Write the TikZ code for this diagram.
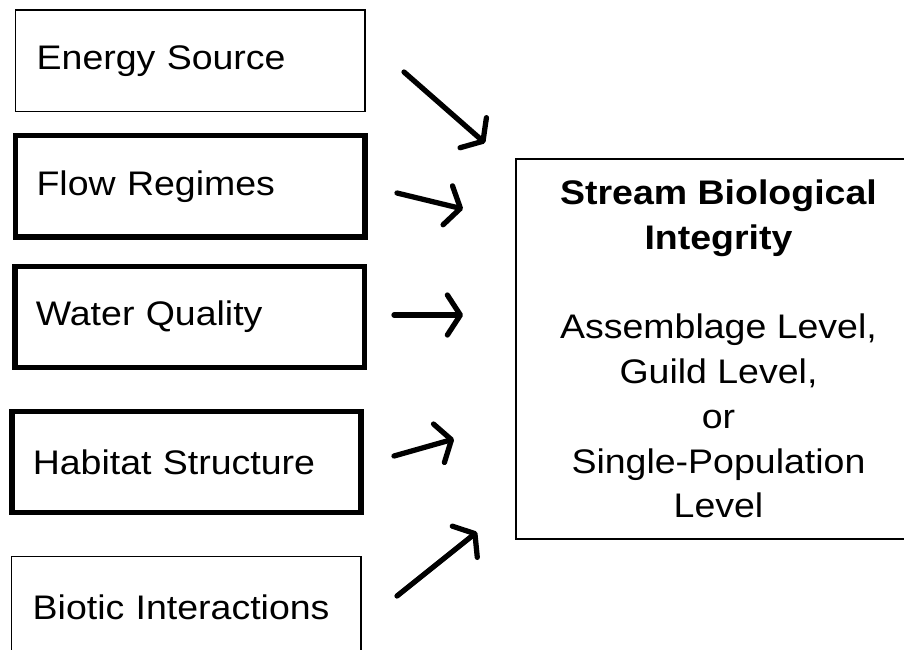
\documentclass[tikz,border=0pt]{standalone}
\usepackage{fontspec}
\setmainfont{Liberation Sans}[FakeStretch=1.1]
\usetikzlibrary{arrows.meta}

\begin{document}
\begin{tikzpicture}[
    x=0.02cm, y=-0.02cm,
    factor/.style={draw, minimum width=6.99cm, minimum height=2.03cm,
                   text width=6.15cm, inner xsep=0.42cm, align=left,
                   font=\fontsize{19.4}{23}\selectfont},
    integrity/.style={draw, line width=0.85pt, minimum width=8.1cm,
                      minimum height=7.6cm, align=center,
                      font=\fontsize{19.4}{25.5}\selectfont},
    arrow/.style={-{Straight Barb[length=0.26cm, width=0.8cm, round]},
                  line width=3pt, line cap=round}
]
\useasboundingbox (0,0) rectangle (904,650);
\clip (0,0) rectangle (904,650);

\node[factor, line width=0.85pt] (energy) at (190.4,60.9) {Energy Source};
\node[factor, line width=3.1pt] (flow) at (190.3,186.3) {Flow Regimes};
\node[factor, line width=3.1pt] (water) at (189.6,317) {Water Quality};
\node[factor, line width=3.1pt] (habitat) at (186.5,462) {Habitat Structure};
\node[factor, line width=0.85pt] (biotic) at (186.4,607) {Biotic Interactions};

\node[integrity] (sbi) at (718.5,349)
    {\textbf{Stream Biological}\\\textbf{Integrity}\\[25.5pt]
     Assemblage Level,\\Guild Level,\\or\\Single-Population\\Level};

% free-standing arrows between the two columns
\coordinate (energy-from) at (404,72);
\coordinate (energy-to) at (485,143);
\coordinate (flow-from) at (397,193);
\coordinate (flow-to) at (463,209);
\coordinate (water-from) at (394,315);
\coordinate (water-to) at (463,315);
\coordinate (habitat-from) at (394,456);
\coordinate (habitat-to) at (454,439);
\coordinate (biotic-from) at (397,596);
\coordinate (biotic-to) at (477,532);

\draw[arrow] (energy-from) -- (energy-to);
\draw[arrow] (flow-from) -- (flow-to);
\draw[arrow] (water-from) -- (water-to);
\draw[arrow] (habitat-from) -- (habitat-to);
\draw[arrow] (biotic-from) -- (biotic-to);
\end{tikzpicture}
\end{document}
